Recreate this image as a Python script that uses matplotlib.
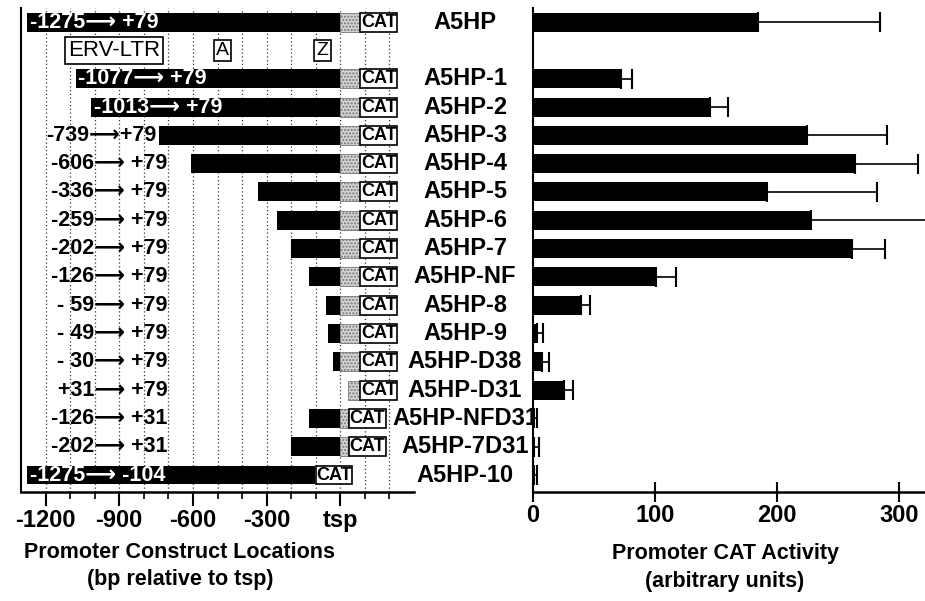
import matplotlib
matplotlib.use("Agg")
import matplotlib.pyplot as plt
from matplotlib.transforms import blended_transform_factory

plt.rcParams['font.family'] = ['Liberation Sans', 'DejaVu Sans']
plt.rcParams['font.weight'] = 'bold'

names = ['A5HP', 'A5HP-1', 'A5HP-2', 'A5HP-3', 'A5HP-4', 'A5HP-5', 'A5HP-6', 'A5HP-7',
         'A5HP-NF', 'A5HP-8', 'A5HP-9', 'A5HP-D38', 'A5HP-D31', 'A5HP-NFD31', 'A5HP-7D31', 'A5HP-10']
starts = [-1275, -1077, -1013, -739, -606, -336, -259, -202, -126, -59, -49, -30, 31, -126, -202, -1275]
ends = [79, 79, 79, 79, 79, 79, 79, 79, 79, 79, 79, 79, 79, 31, 31, -104]
construct_labels = ['-1275\u27f6 +79', '-1077\u27f6 +79', '-1013\u27f6 +79', '-739\u27f6+79',
                    '-606\u27f6 +79', '-336\u27f6 +79', '-259\u27f6 +79', '-202\u27f6 +79',
                    '-126\u27f6 +79', '- 59\u27f6 +79', '- 49\u27f6 +79', '- 30\u27f6 +79',
                    '+31\u27f6 +79', '-126\u27f6 +31', '-202\u27f6 +31', '-1275\u27f6 -104']
on_bar = [True, True, True, False, False, False, False, False,
          False, False, False, False, False, False, False, True]
activity = [184, 72, 145, 224, 264, 192, 228, 261, 101, 39, 3, 7, 25, 0.5, 1, 1]
errors = [100, 9, 15, 66, 51, 90, 105, 27, 16, 8, 5, 6, 8, 2.5, 4, 2.5]
# row slots (slot 1 holds the ERV-LTR / A / Z annotation)
rows = [0] + list(range(2, 17))

fig = plt.figure(figsize=(9.25, 6.01), dpi=100)
ax1 = fig.add_axes([21/925, 1-492/601, 393/925, 484/601])
ax2 = fig.add_axes([533/925, 1-492/601, 392/925, 484/601])

bh = 0.67
cat_w = 150
for r, s, e, lab, wb in zip(rows, starts, ends, construct_labels, on_bar):
    if s < 0:
        ax1.barh(r, min(e, 0) - s, left=s, height=bh, color='black', zorder=2)
    if e > 0:
        g0 = max(s, 0)
        ax1.barh(r, e - g0, left=g0, height=bh, color='#d4d4d4', edgecolor='#777777',
                 linewidth=0.6, hatch='.....', zorder=2)
    ax1.barh(r, cat_w, left=e + 3, height=bh, color='white', edgecolor='black',
             linewidth=1.2, zorder=2)
    ax1.text(e + 3 + cat_w/2, r, 'CAT', ha='center', va='center', fontsize=13,
             fontweight='bold', zorder=3)
    if wb:
        ax1.text(s + 10, r, lab, ha='left', va='center', color='white', fontsize=15.5, zorder=3)
    else:
        ax1.text(min(-705, s - 8), r, lab, ha='right', va='center', color='black',
                 fontsize=15.5, zorder=3)

box = dict(boxstyle='square,pad=0.12', facecolor='white', edgecolor='black', linewidth=1.2)
ax1.text(-922, 1, 'ERV-LTR', ha='center', va='center', fontsize=16, fontweight='normal', bbox=box, zorder=3)
ax1.text(-480, 1, 'A', ha='center', va='center', fontsize=14, fontweight='normal', bbox=box, zorder=3)
ax1.text(-73, 1, 'Z', ha='center', va='center', fontsize=14, fontweight='normal', bbox=box, zorder=3)

ax1.set_xlim(-1300, 300)
ax1.set_ylim(16.6, -0.5)
ax1.set_xticks([-1200, -900, -600, -300, 0])
ax1.set_xticklabels(['-1200', '-900', '-600', '-300', 'tsp'], fontsize=17, fontweight='bold')
ax1.set_xticks(list(range(-1200, 201, 100)), minor=True)
ax1.grid(True, which='both', axis='x', linestyle=(0, (1, 2)), color='#333333', linewidth=0.9)
ax1.set_axisbelow(True)
ax1.set_yticks([])
ax1.tick_params(axis='x', which='major', length=10, width=1.5, pad=2)
ax1.tick_params(axis='x', which='minor', length=5, width=1.2)
for sp in ['top', 'right']:
    ax1.spines[sp].set_visible(False)
ax1.spines['bottom'].set_linewidth(1.8)
ax1.spines['left'].set_linewidth(1.5)

ax2.barh(rows, activity, height=bh, color='black',
         xerr=[[0]*len(errors), errors], error_kw=dict(ecolor='black', elinewidth=1.2,
                                                       capsize=7, capthick=1.5))
ax2.set_xlim(0, 321)
ax2.set_ylim(16.6, -0.5)
ax2.set_yticks([])
ax2.set_xticks([0, 100, 200, 300])
ax2.set_xticklabels(['0', '100', '200', '300'], fontsize=17, fontweight='bold')
ax2.tick_params(axis='x', direction='inout', length=14, width=1.5, pad=2)
for sp in ['top', 'right']:
    ax2.spines[sp].set_visible(False)
ax2.spines['bottom'].set_linewidth(1.8)
ax2.spines['left'].set_linewidth(1.5)

tr = blended_transform_factory(fig.transFigure, ax1.transData)
for r, n in zip(rows, names):
    ax1.text(465/925, r, n, transform=tr, ha='center', va='center', fontsize=17,
             clip_on=False)

fig.text(180/925, 1-553/601, 'Promoter Construct Locations', ha='center', va='center', fontsize=15.5)
fig.text(180/925, 1-580/601, '(bp relative to tsp)', ha='center', va='center', fontsize=15.5)
fig.text(725/925, 1-553/601, 'Promoter CAT Activity', ha='center', va='center', fontsize=15.5)
fig.text(725/925, 1-582/601, '(arbitrary units)', ha='center', va='center', fontsize=15.5)

fig.savefig('out.png', dpi=100)
